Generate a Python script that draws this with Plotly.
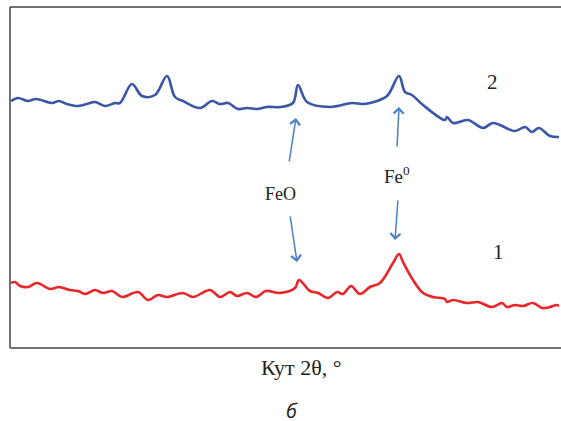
import plotly.graph_objects as go

# Sample 2 (blue) - angle positions (arb. units) and intensity
angle_2 = [11, 18, 28, 36, 52, 59, 67, 77, 87, 95, 105, 115, 120, 132, 142, 155, 167, 175, 183,
           200, 212, 220, 228, 238, 247, 257, 267, 280, 293, 298, 307, 330, 352, 362, 370, 387,
           399, 405, 412, 423, 445, 447, 453, 468, 483, 493, 515, 525, 532, 539, 550, 560]
int_2 = [247, 250, 247, 249, 245, 247, 244, 242, 244, 246, 242, 245, 245, 264, 252, 253, 272, 251, 247,
         240, 247, 244, 245, 239, 240, 239, 241, 241, 245, 263, 246, 241, 245, 244, 245, 252,
         272, 256, 253, 243, 228, 231, 225, 228, 220, 225, 217, 221, 216, 220, 212, 211]

# Sample 1 (red)
angle_1 = [11, 15, 20, 28, 37, 50, 59, 70, 78, 85, 95, 103, 112, 122, 138, 148, 158, 167, 183, 193,
           210, 220, 230, 237, 247, 256, 266, 280, 295, 299, 310, 318, 328, 337, 343, 351, 360,
           370, 380, 393, 399, 403, 413, 423, 433, 445, 447, 453, 467, 478, 492, 502, 507, 515,
           523, 533, 542, 550, 557, 561]
int_1 = [65, 66, 62, 61, 65, 59, 61, 58, 57, 54, 58, 55, 57, 51, 56, 48, 53, 51, 55, 51,
         58, 51, 56, 52, 55, 51, 57, 55, 60, 68, 57, 55, 50, 56, 54, 62, 54,
         61, 65, 85, 94, 86, 68, 55, 51, 49, 46, 48, 45, 46, 41, 45, 41, 43,
         42, 45, 40, 41, 43, 41]

fig = go.Figure()
fig.add_trace(go.Scatter(x=angle_2, y=int_2, mode="lines",
                         line=dict(color="#3a56a6", width=2.6, shape="spline", smoothing=1.0),
                         hoverinfo="skip", showlegend=False))
fig.add_trace(go.Scatter(x=angle_1, y=int_1, mode="lines",
                         line=dict(color="#e8262a", width=2.6, shape="spline", smoothing=1.0),
                         hoverinfo="skip", showlegend=False))

arrow_col = "#4a7ec6"
serif = "Liberation Serif"

def arrow(x_tail, y_tail, x_tip, y_tip):
    fig.add_annotation(x=x_tip, y=y_tip, ax=x_tail, ay=y_tail, xref="x", yref="y",
                       axref="x", ayref="y", text="", showarrow=True, arrowhead=4,
                       arrowsize=1.3, arrowwidth=1.5, arrowcolor=arrow_col)

arrow(289, 185, 296, 230)
arrow(290, 133, 297, 86)
arrow(397, 200, 399, 241)
arrow(398, 149, 395, 108)

def label(x, y, text, size, font=serif):
    fig.add_annotation(x=x, y=y, xref="x", yref="y", text=text, showarrow=False,
                       font=dict(family=font, size=size, color="#222"))

label(492, 266, "2", 21)
label(498, 96, "1", 21)
label(280, 154, "FeO", 18)
label(397, 173, "Fe<sup>0</sup>", 19)

fig.add_annotation(x=(301 - 10) / 551, y=-19 / 341, xref="paper", yref="paper",
                   xanchor="center", yanchor="middle",
                   text="Кут 2θ, °", showarrow=False,
                   font=dict(family=serif, size=22, color="#222"))
fig.add_annotation(x=(292 - 10) / 551, y=-62 / 341, xref="paper", yref="paper",
                   xanchor="center", yanchor="middle",
                   text="б", showarrow=False,
                   font=dict(family="Open Sans", size=20, color="#222", style="italic"))

frame = dict(color="#444", width=1.5)
fig.add_shape(type="line", xref="paper", yref="paper", x0=0, x1=1, y0=1, y1=1, line=frame)
fig.add_shape(type="line", xref="paper", yref="paper", x0=0, x1=1, y0=0, y1=0, line=frame)
fig.add_shape(type="line", xref="paper", yref="paper", x0=0, x1=0, y0=0, y1=1, line=frame)
# cover any right-edge border
fig.add_shape(type="line", xref="paper", yref="paper", x0=1, x1=1, y0=0.003, y1=0.997,
              line=dict(color="white", width=4))

fig.update_layout(
    width=561, height=421,
    margin=dict(l=10, r=0, t=7, b=73),
    paper_bgcolor="white", plot_bgcolor="white",
    xaxis=dict(range=[10, 561], showline=False,
               showgrid=False, zeroline=False, showticklabels=False, ticks=""),
    yaxis=dict(range=[0, 341], showline=False,
               showgrid=False, zeroline=False, showticklabels=False, ticks=""),
)
fig.write_html("out.html")
